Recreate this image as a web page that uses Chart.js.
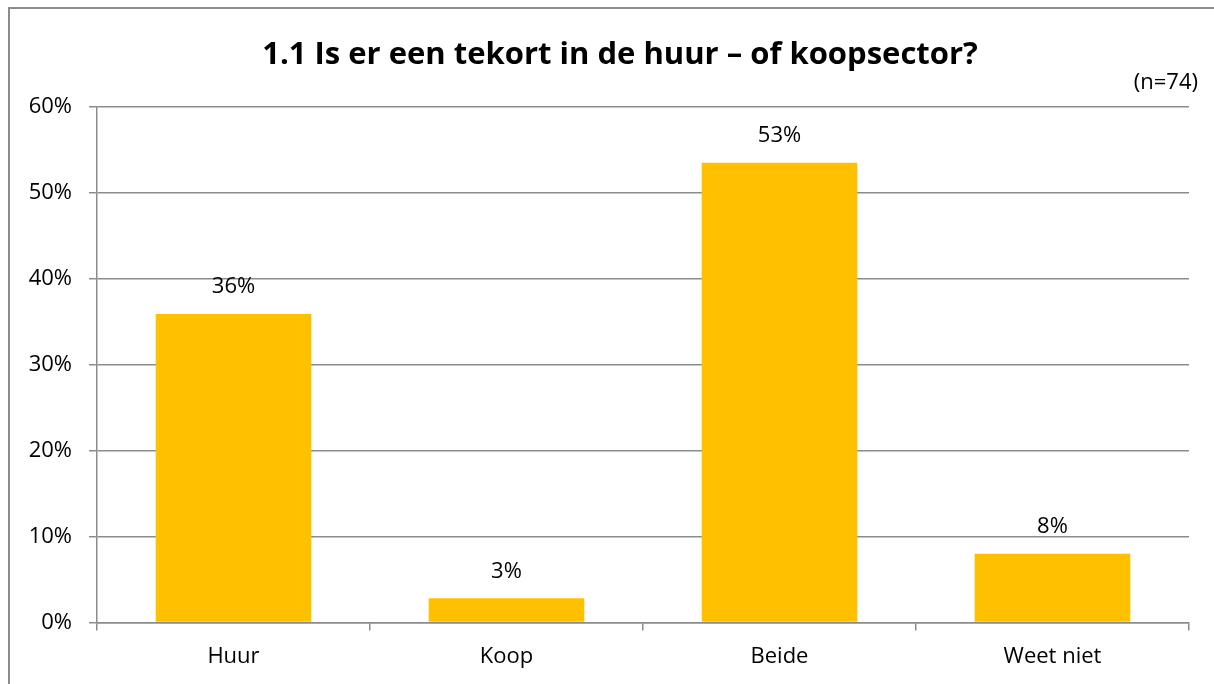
<!DOCTYPE html>
<html>
<head>
<meta charset="utf-8">
<script src="https://cdn.jsdelivr.net/npm/chart.js@4"></script>
<style>
  html, body { margin: 0; padding: 0; background: #fff; }
  #wrap { width: 1214px; height: 684px; position: relative; }
</style>
</head>
<body>
<div id="wrap"><canvas id="grafiek" width="1214" height="684"></canvas></div>
<script>
// data
const categorieen = ['Huur', 'Koop', 'Beide', 'Weet niet'];
const percentages = [35.9, 2.8, 53.5, 8.0];
const labelTeksten = ['36%', '3%', '53%', '8%'];
const titel = '1.1 Is er een tekort in de huur \u2013 of koopsector?';
const aantal = '(n=74)';

const lettertype = "'Open Sans', sans-serif";
const grijs = '#8c8c8c';

// rand om de grafiek + n=74 + waarden boven de staven
const extraTekst = {
  id: 'extraTekst',
  beforeDraw(chart) {
    const ctx = chart.ctx;
    ctx.save();
    ctx.strokeStyle = grijs;
    ctx.lineWidth = 2;
    ctx.strokeRect(9, 8, 1400, 1000);
    ctx.restore();
  },
  afterDatasetsDraw(chart) {
    const ctx = chart.ctx;
    ctx.save();
    ctx.fillStyle = '#000';
    ctx.font = '22px ' + lettertype;
    ctx.textAlign = 'center';
    ctx.textBaseline = 'middle';
    chart.getDatasetMeta(0).data.forEach((bar, i) => {
      ctx.fillText(labelTeksten[i], bar.x, bar.y - 27);
    });
    ctx.textAlign = 'right';
    ctx.fillText(aantal, 1198, 83);
    ctx.restore();
  }
};

const ctx = document.getElementById('grafiek').getContext('2d');
new Chart(ctx, {
  type: 'bar',
  data: {
    labels: categorieen,
    datasets: [{
      data: percentages,
      backgroundColor: '#FFC000',
      borderWidth: 0,
      categoryPercentage: 0.57,
      barPercentage: 1
    }]
  },
  options: {
    responsive: false,
    animation: false,
    layout: { padding: { left: 26, right: 0, top: 0, bottom: 0 } },
    plugins: {
      legend: { display: false },
      tooltip: { enabled: false },
      title: {
        display: true,
        text: titel,
        color: '#000',
        font: { family: lettertype, size: 31, weight: 'bold', lineHeight: 1.2 },
        padding: { top: 36.4, bottom: 33.4 }
      }
    },
    scales: {
      x: {
        offset: true,
        grid: { display: true, offset: true, drawOnChartArea: false, drawTicks: true, tickLength: 8, color: grijs, lineWidth: 1.5 },
        border: { display: true, color: grijs, width: 1.5 },
        ticks: { color: '#000', font: { family: lettertype, size: 22 }, padding: 13.6 }
      },
      y: {
        min: 0,
        max: 60,
        afterFit(scale) { scale.width = 71; },
        grid: { color: grijs, lineWidth: 1.5, tickLength: 8 },
        border: { display: true, color: grijs, width: 1.5 },
        ticks: {
          stepSize: 10,
          color: '#000',
          padding: 17,
          font: { family: lettertype, size: 22 },
          callback: v => v + '%'
        }
      },
      // lege as rechts, alleen voor ruimte naast het plotvlak
      rechts: {
        position: 'right',
        afterFit(scale) { scale.width = 25; },
        grid: { drawOnChartArea: false, drawTicks: false },
        border: { display: false },
        ticks: { display: false }
      }
    }
  },
  plugins: [extraTekst]
});
</script>
</body>
</html>
